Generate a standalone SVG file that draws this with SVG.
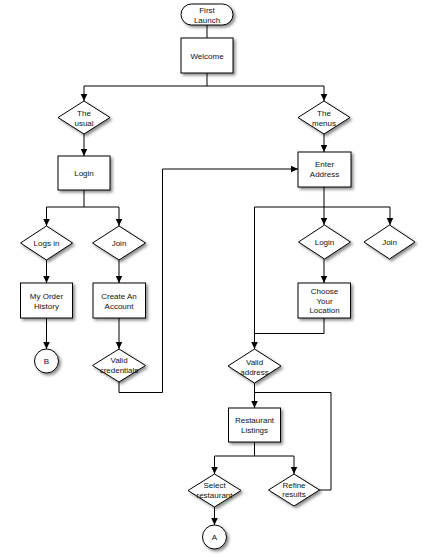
<svg xmlns="http://www.w3.org/2000/svg" width="424" height="557" viewBox="0 0 424 557">
<defs>
<filter id="sh" x="-20%" y="-20%" width="150%" height="150%">
<feDropShadow dx="2" dy="2" stdDeviation="1.5" flood-color="#000" flood-opacity="0.45"/>
</filter>
<marker id="ar" markerUnits="userSpaceOnUse" markerWidth="8" markerHeight="8" refX="7.5" refY="3.5" orient="auto">
<path d="M0,0 L7.5,3.5 L0,7 z" fill="#000"/>
</marker>
</defs>
<style>
.n{fill:#fff;stroke:#000;stroke-width:1;filter:url(#sh)}
.t{font-family:"Liberation Sans",Arial,sans-serif;font-size:8px;fill:#111;text-anchor:middle}
.c{fill:none;stroke:#000;stroke-width:1}
.a{fill:none;stroke:#000;stroke-width:1;marker-end:url(#ar)}
</style>
<rect width="424" height="557" fill="#fff"/>
<g id="connectors">
<path class="c" d="M207,25 V38"/>
<path class="c" d="M207,73 V86 M84,86 H324"/>
<path class="a" d="M84,86 V101"/>
<path class="a" d="M324,86 V101"/>
<path class="a" d="M84,134 V156"/>
<path class="c" d="M84,190 V207 M46.5,207 H119"/>
<path class="a" d="M46.5,207 V226"/>
<path class="a" d="M119,207 V226"/>
<path class="a" d="M46.5,260 V283"/>
<path class="a" d="M119,260 V283"/>
<path class="a" d="M46.5,318 V349"/>
<path class="a" d="M119,318 V349"/>
<path class="a" d="M119,382 V392.5 H162.5 V169 H298"/>
<path class="a" d="M324,134 V152"/>
<path class="c" d="M324,187 V207 M254.5,207 H390"/>
<path class="a" d="M324,207 V225"/>
<path class="a" d="M390,207 V225"/>
<path class="a" d="M254.5,207 V349"/>
<path class="a" d="M324,259 V283"/>
<path class="c" d="M324,318 V333.5 H254.5"/>
<path class="a" d="M254.5,383 V408"/>
<path class="c" d="M319,490 H331 V392.5 H254.5"/>
<path class="c" d="M254.5,442 V456 M214.5,456 H294"/>
<path class="a" d="M214.5,456 V474"/>
<path class="a" d="M294,456 V474"/>
<path class="a" d="M214.5,507 V525"/>
</g>
<g id="first-launch">
<rect class="n" x="181" y="4" width="52" height="21" rx="10.5"/>
<text class="t" x="207" y="13">First</text>
<text class="t" x="207" y="23">Launch</text>
</g>
<g id="welcome">
<rect class="n" x="181" y="38" width="52" height="35"/>
<text class="t" x="207" y="58.5">Welcome</text>
</g>
<g id="the-usual">
<polygon class="n" points="84,101 110,117.5 84,134 58,117.5"/>
<text class="t" x="84" y="116">The</text>
<text class="t" x="84" y="125.5">usual</text>
</g>
<g id="login-left">
<rect class="n" x="58" y="156" width="52" height="34"/>
<text class="t" x="84" y="176">Login</text>
</g>
<g id="logs-in">
<polygon class="n" points="46.5,226 72.5,243 46.5,260 20.5,243"/>
<text class="t" x="46.5" y="246">Logs in</text>
</g>
<g id="join-left">
<polygon class="n" points="119,226 145.5,243 119,260 92.5,243"/>
<text class="t" x="119" y="246">Join</text>
</g>
<g id="my-order-history">
<rect class="n" x="20.5" y="283" width="52" height="35"/>
<text class="t" x="46.5" y="299">My Order</text>
<text class="t" x="46.5" y="309">History</text>
</g>
<g id="create-account">
<rect class="n" x="93" y="283" width="52.5" height="35"/>
<text class="t" x="119" y="299">Create An</text>
<text class="t" x="119" y="309">Account</text>
</g>
<g id="b">
<circle class="n" cx="46.5" cy="361" r="12"/>
<text class="t" x="46.5" y="364">B</text>
</g>
<g id="valid-credentials">
<polygon class="n" points="119,349 145.5,365.5 119,382 92.5,365.5"/>
<text class="t" x="119" y="363">Valid</text>
<text class="t" x="119" y="373">credentials</text>
</g>
<g id="the-menus">
<polygon class="n" points="324,101 350,117.5 324,134 298,117.5"/>
<text class="t" x="324" y="116">The</text>
<text class="t" x="324" y="125.5">menus</text>
</g>
<g id="enter-address">
<rect class="n" x="298" y="152" width="53" height="35"/>
<text class="t" x="324.5" y="167">Enter</text>
<text class="t" x="324.5" y="177">Address</text>
</g>
<g id="login-right">
<polygon class="n" points="324.5,225 350.5,242 324.5,259 298.5,242"/>
<text class="t" x="324.5" y="245">Login</text>
</g>
<g id="join-right">
<polygon class="n" points="389.5,225 415,242 389.5,259 364,242"/>
<text class="t" x="389.5" y="245">Join</text>
</g>
<g id="choose-location">
<rect class="n" x="298" y="283" width="52.5" height="35"/>
<text class="t" x="324.5" y="294">Choose</text>
<text class="t" x="324.5" y="303.5">Your</text>
<text class="t" x="324.5" y="313">Location</text>
</g>
<g id="valid-address">
<polygon class="n" points="254.5,349 281,366 254.5,383 228,366"/>
<text class="t" x="254.5" y="365">Valid</text>
<text class="t" x="254.5" y="374.5">address</text>
</g>
<g id="restaurant-listings">
<rect class="n" x="228.5" y="408" width="52" height="34"/>
<text class="t" x="254.5" y="423">Restaurant</text>
<text class="t" x="254.5" y="433">Listings</text>
</g>
<g id="select-restaurant">
<polygon class="n" points="214.5,474 241,490.5 214.5,507 188,490.5"/>
<text class="t" x="214.5" y="488">Select</text>
<text class="t" x="214.5" y="497.5">restaurant</text>
</g>
<g id="refine-results">
<polygon class="n" points="294,474 319.5,490 294,506 268.5,490"/>
<text class="t" x="294" y="487.5">Refine</text>
<text class="t" x="294" y="497">results</text>
</g>
<g id="a">
<circle class="n" cx="214.5" cy="537" r="12"/>
<text class="t" x="214.5" y="540">A</text>
</g>
</svg>
